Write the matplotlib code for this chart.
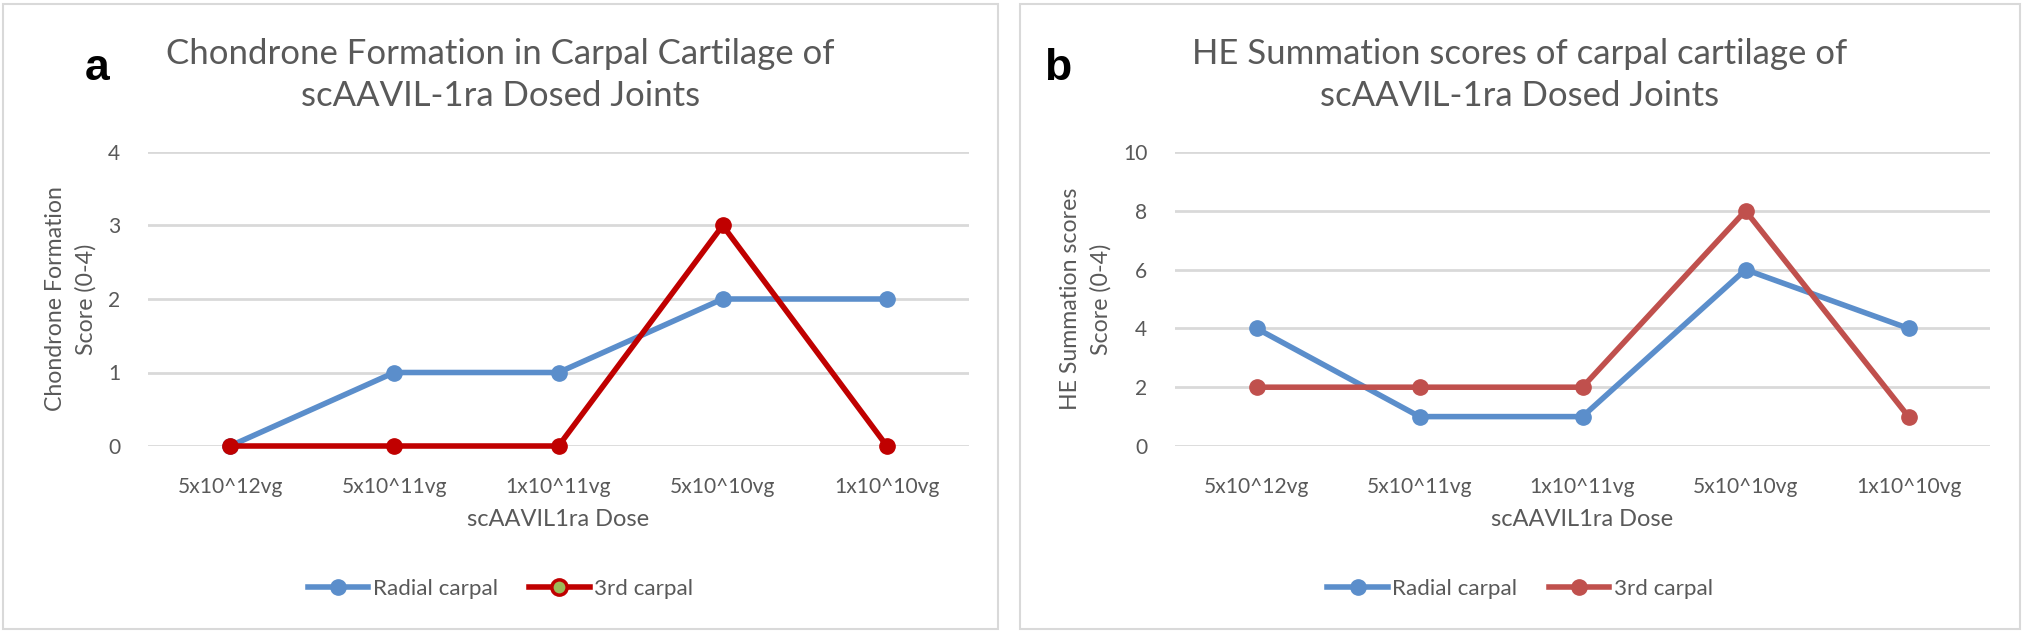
import matplotlib.pyplot as plt
from matplotlib.patches import Rectangle

# data
doses = ['5x10^12vg', '5x10^11vg', '1x10^11vg', '5x10^10vg', '1x10^10vg']
chondrone_radial = [0, 1, 1, 2, 2]
chondrone_third = [0, 0, 0, 3, 0]
he_radial = [4, 1, 1, 6, 4]
he_third = [2, 2, 2, 8, 1]

plt.rcParams['font.family'] = ['Lato', 'DejaVu Sans']
W, H = 2025, 632
fig = plt.figure(figsize=(W / 100, H / 100), dpi=100)

blue = '#5B8ECB'
grey_txt = '#595959'
grid_c = '#D9D9D9'


def px(x0, y0, x1, y1):
    # pixel box (top-left origin) -> figure fraction rect
    return [x0 / W, 1 - y1 / H, (x1 - x0) / W, (y1 - y0) / H]


def panel(box, ax_box, letter, letter_x, title, ylabel, radial, third, third_col,
          ymax, ystep, legend_face):
    bx0, by0, bx1, by1 = box
    fig.patches.append(Rectangle((bx0 / W, 1 - by1 / H), (bx1 - bx0) / W, (by1 - by0) / H,
                                 transform=fig.transFigure, fill=False,
                                 edgecolor=grid_c, linewidth=1.5))
    ax = fig.add_axes(px(*ax_box))
    x = range(len(doses))
    ax.plot(x, radial, color=blue, lw=4, marker='o', ms=11, label='Radial carpal', zorder=3)
    ax.plot(x, third, color=third_col, lw=4, marker='o', ms=11, label='3rd carpal', zorder=3)
    ax.set_xlim(-0.5, len(doses) - 0.5)
    ax.set_ylim(0, ymax)
    ax.set_yticks(range(0, ymax + 1, ystep))
    ax.set_xticks(list(x))
    ax.set_xticklabels(doses)
    ax.yaxis.grid(True, color=grid_c, lw=2)
    ax.set_axisbelow(True)
    for s in ax.spines.values():
        s.set_visible(False)
    ax.tick_params(length=0, labelsize=15.1, colors=grey_txt)
    ax.tick_params(axis='x', pad=22)
    ax.tick_params(axis='y', pad=20)
    for ln in ax.lines:
        ln.set_clip_on(False)
    ax.set_xlabel('scAAVIL1ra Dose', fontsize=17, color=grey_txt, labelpad=9)
    ax.set_ylabel(ylabel, fontsize=16.7, color=grey_txt, linespacing=1.55, labelpad=8)

    cx = (bx0 + bx1) / 2 / W
    fig.text(cx, 1 - 75 / H, title, ha='center', va='center', fontsize=25,
             color=grey_txt, linespacing=1.4)
    fig.text(letter_x / W, 1 - 80 / H, letter, ha='center', va='baseline',
             fontsize=32, fontweight='bold', family=['Liberation Sans', 'DejaVu Sans'])

    leg = ax.legend(loc='center', bbox_to_anchor=(cx, 1 - 589 / H),
                    bbox_transform=fig.transFigure, ncol=2, frameon=False,
                    fontsize=16.1, handlelength=2.7, handletextpad=0.2,
                    columnspacing=1.4, labelcolor=grey_txt)
    if legend_face:
        leg.legend_handles[1].set_markerfacecolor(legend_face)
        leg.legend_handles[1].set_markeredgewidth(2.5)
    return ax


panel((3, 4, 998, 629), (148, 152, 969, 446), 'a', 97,
      'Chondrone Formation in Carpal Cartilage of\nscAAVIL-1ra Dosed Joints',
      'Chondrone Formation\nScore (0-4)',
      chondrone_radial, chondrone_third, '#C00000', 4, 1, '#9BBB59')

panel((1020, 4, 2020, 629), (1175, 152, 1990, 446), 'b', 1058,
      'HE Summation scores of carpal cartilage of\nscAAVIL-1ra Dosed Joints',
      'HE Summation scores\nScore (0-4)',
      he_radial, he_third, '#C0504D', 10, 2, None)

fig.savefig('out.png', dpi=100, facecolor='white')
